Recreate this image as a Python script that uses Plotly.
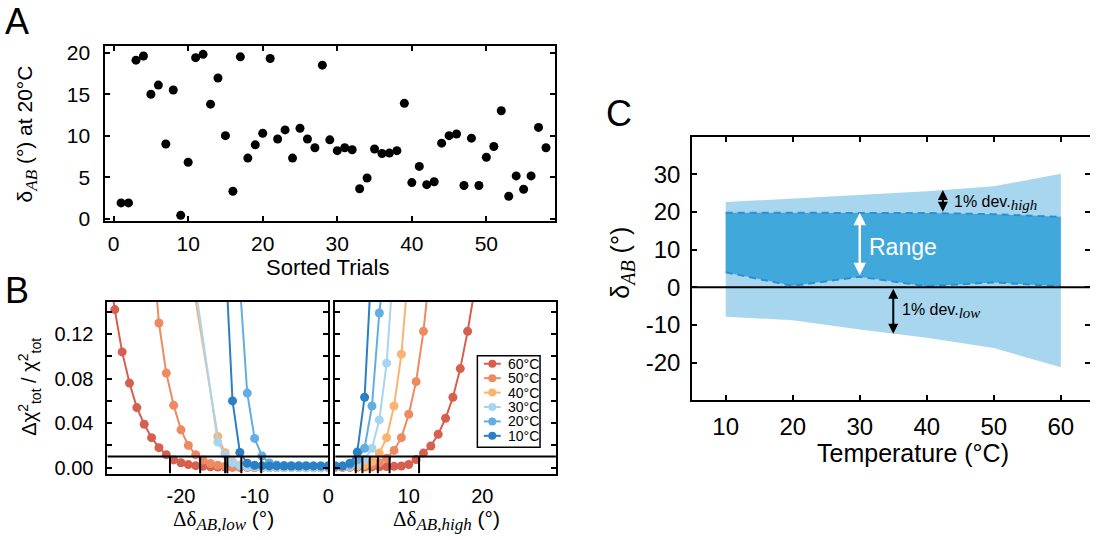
import numpy as np
import plotly.graph_objects as go

W, H = 1096, 540
SANS = "Liberation Sans, Arial, sans-serif"
SERIF = "Liberation Serif, Times New Roman, serif"

# ---------------- Panel A: δ_AB at 20 °C for every sorted trial ----------------
delta_20C = [1.9, 1.9, 19.1, 19.6, 15.0, 16.1, 9.0, 15.5, 0.4, 6.8,
             19.4, 19.8, 13.8, 16.95, 10.0, 3.3, 19.5, 7.3, 8.9, 10.3,
             19.3, 9.6, 10.7, 7.3, 10.9, 9.6, 8.55, 18.5, 9.5, 8.2,
             8.55, 8.3, 3.6, 4.9, 8.4, 7.85, 7.9, 8.2, 13.9, 4.35,
             6.3, 4.1, 4.45, 9.1, 10.0, 10.2, 4.0, 9.7, 4.0, 7.4,
             8.7, 13.0, 2.7, 5.15, 3.55, 5.15, 11.0, 8.55]
trial = list(range(1, len(delta_20C) + 1))

# ---------------- Panel B: Δχ²/χ² scans on both sides of the optimum ----------------
scan_temps = [60, 50, 40, 30, 20, 10]
scan_colors = ["#d6604d", "#ee8a62", "#fbb46f", "#a7d5f1", "#62aee2", "#2b7fc4"]
threshold = 0.01

low60_x = [-30, -29, -28, -27, -26, -25, -24, -23, -22, -21, -20, -19, -18, -17, -16,
           -15, -14, -13, -12, -11, -10, -9, -8, -7, -6, -5, -4, -3, -2, -1, 0]
low60_y = [0.190, 0.142, 0.104, 0.076, 0.054, 0.039, 0.027, 0.018, 0.0117, 0.0070,
           0.0044, 0.0028, 0.0018, 0.0012, 0.0008, 0.0006, 0.0005, 0.0004, 0.0003, 0.0003,
           0.0002, 0.0002, 0.0002, 0.0001, 0.0001, 0.0001, 0.0001, 0.0, 0.0, 0.0, 0.0]
low50_x = [-24, -23, -22, -21, -20, -19, -18, -17, -16, -15, -14, -13, -12,
           -11, -10, -9, -8, -7, -6, -5, -4, -3, -2, -1, 0]
low50_y = [0.210, 0.130, 0.085, 0.056, 0.034, 0.020, 0.0116, 0.0068, 0.0038, 0.0022,
           0.0014, 0.0009, 0.0006, 0.0004, 0.0003, 0.0002, 0.0002, 0.0001, 0.0001, 0.0001,
           0.0, 0.0, 0.0, 0.0, 0.0]
low40_x = [-18.5, -15, -14, -13, -12, -11, -10, -9, -8, -7, -6, -5, -4, -3, -2, -1, 0]
low40_y = [0.170, 0.028, 0.0135, 0.0055, 0.0025, 0.0012, 0.0008, 0.0005, 0.0003,
           0.0002, 0.0002, 0.0001, 0.0001, 0.0001, 0.0, 0.0, 0.0]
low30_x = [-18.2, -15, -14, -13, -12, -11, -10, -9, -8, -7, -6, -5, -4, -3, -2, -1, 0]
low30_y = [0.170, 0.023, 0.0115, 0.0045, 0.0020, 0.0010, 0.0007, 0.0005, 0.0004,
           0.0003, 0.0002, 0.0002, 0.0001, 0.0001, 0.0, 0.0, 0.0]
low20_x = [-12.2, -11, -10, -9, -8, -7, -6, -5, -4, -3, -2, -1, 0]
low20_y = [0.184, 0.067, 0.0263, 0.0105, 0.0042, 0.0025, 0.0020, 0.0018, 0.0017,
           0.0017, 0.0016, 0.0016, 0.0016]
low10_x = [-14, -13, -12, -11, -10, -9, -8, -7, -6, -5, -4, -3, -2, -1, 0]
low10_y = [0.195, 0.060, 0.0137, 0.0040, 0.0022, 0.0018, 0.0016, 0.0016, 0.0015,
           0.0015, 0.0015, 0.0016, 0.0016, 0.0015, 0.0015]

high60_x = [0, 1, 2, 3, 4, 5, 6, 7, 8, 9, 10, 11, 12, 13, 14, 15, 16, 17, 18, 19]
high60_y = [0.0003, 0.0003, 0.0004, 0.0005, 0.0006, 0.0007, 0.0008, 0.0010, 0.0012, 0.0015,
            0.0029, 0.0073, 0.0131, 0.0195, 0.0300, 0.0444, 0.0633, 0.0890, 0.1225, 0.162]
high50_x = [0, 1, 2, 3, 4, 5, 6, 7, 8, 9, 10, 11, 12, 13]
high50_y = [0.0006, 0.0006, 0.0008, 0.0010, 0.0015, 0.0025, 0.0045, 0.0085, 0.0155,
            0.0270, 0.0480, 0.0773, 0.1225, 0.186]
high40_x = [0, 1, 2, 3, 4, 5, 6, 7, 8, 9, 10]
high40_y = [0.0008, 0.0008, 0.0010, 0.0015, 0.0025, 0.0055, 0.0131, 0.0270, 0.0554, 0.102, 0.180]
high30_x = [0, 1, 2, 3, 4, 5, 6, 7, 8]
high30_y = [0.0010, 0.0010, 0.0015, 0.0030, 0.0075, 0.0175, 0.0429, 0.0939, 0.190]
high20_x = [0, 1, 2, 3, 4, 5, 6, 7]
high20_y = [0.0015, 0.0015, 0.0025, 0.0070, 0.0175, 0.0554, 0.139, 0.200]
high10_x = [0, 1, 2, 3, 4, 5]
high10_y = [0.0015, 0.0015, 0.0040, 0.0140, 0.0633, 0.190]

scans_low = [(low60_x, low60_y), (low50_x, low50_y), (low40_x, low40_y),
             (low30_x, low30_y), (low20_x, low20_y), (low10_x, low10_y)]
scans_high = [(high60_x, high60_y), (high50_x, high50_y), (high40_x, high40_y),
              (high30_x, high30_y), (high20_x, high20_y), (high10_x, high10_y)]

# ---------------- Panel C: accepted range and 1 % deviation bounds ----------------
temps = [10, 20, 30, 40, 50, 60]
range_low = [4.0, 0.4, 2.8, 0.3, 1.3, 0.3]
range_high = [19.8, 19.8, 19.8, 19.7, 19.4, 18.7]
dev_low = [11.8, 9.1, 14.0, 13.7, 17.4, 21.5]
dev_high = [2.8, 3.7, 4.7, 5.8, 7.4, 11.4]

bound_low = [r - d for r, d in zip(range_low, dev_low)]
bound_high = [r + d for r, d in zip(range_high, dev_high)]

LIGHT = "#a8d6ef"
DARK = "#41a8dc"
DASH = "#2a90d3"

yB_range = [-0.00525, 0.1492]


def px(x):
    return x / W


def py(y):
    return 1 - y / H


fig = go.Figure()

# Panel A scatter
fig.add_trace(go.Scatter(x=trial, y=delta_20C, mode="markers",
                         marker=dict(color="black", size=9),
                         xaxis="x", yaxis="y", showlegend=False))

# Panel B scans
for (xs, ys), col in zip(scans_low, scan_colors):
    fig.add_trace(go.Scatter(x=xs, y=ys, mode="lines+markers",
                             line=dict(color=col, width=2),
                             marker=dict(color=col, size=9),
                             xaxis="x2", yaxis="y2", showlegend=False))
for (xs, ys), col in zip(scans_high, scan_colors):
    fig.add_trace(go.Scatter(x=xs, y=ys, mode="lines+markers",
                             line=dict(color=col, width=2),
                             marker=dict(color=col, size=9),
                             xaxis="x3", yaxis="y3", showlegend=False))

# threshold line and crossing markers
vlx, vly, vhx, vhy = [], [], [], []
for d in dev_low:
    vlx += [-d, -d, None]
    vly += [yB_range[0], threshold, None]
for d in dev_high:
    vhx += [d, d, None]
    vhy += [yB_range[0], threshold, None]
fig.add_trace(go.Scatter(x=[-30, 0] + [None] + vlx, y=[threshold, threshold] + [None] + vly,
                         mode="lines", line=dict(color="black", width=2),
                         xaxis="x2", yaxis="y2", showlegend=False))
fig.add_trace(go.Scatter(x=[0, 30] + [None] + vhx, y=[threshold, threshold] + [None] + vhy,
                         mode="lines", line=dict(color="black", width=2),
                         xaxis="x3", yaxis="y3", showlegend=False))

# Panel C bands
fig.add_trace(go.Scatter(x=temps, y=bound_low, mode="lines", line=dict(width=0, color=LIGHT),
                         xaxis="x4", yaxis="y4", showlegend=False, hoverinfo="skip"))
fig.add_trace(go.Scatter(x=temps, y=bound_high, mode="lines", line=dict(width=0, color=LIGHT),
                         fill="tonexty", fillcolor=LIGHT,
                         xaxis="x4", yaxis="y4", showlegend=False))
fig.add_trace(go.Scatter(x=temps, y=range_low, mode="lines",
                         line=dict(color=DASH, width=2, dash="7px,5px"),
                         xaxis="x4", yaxis="y4", showlegend=False))
fig.add_trace(go.Scatter(x=temps, y=range_high, mode="lines",
                         line=dict(color=DASH, width=2, dash="7px,5px"),
                         fill="tonexty", fillcolor=DARK,
                         xaxis="x4", yaxis="y4", showlegend=False))
# keeps the right-hand tick axis of panel C alive
fig.add_trace(go.Scatter(x=[None], y=[None], xaxis="x4", yaxis="y5", showlegend=False))

tickfont_A = dict(family=SANS, size=21, color="black")
tickfont_B = dict(family=SANS, size=20, color="black")
tickfont_C = dict(family=SANS, size=24, color="black")

box = dict(showline=True, linecolor="black", linewidth=2, showgrid=False, zeroline=False,
           tickcolor="black", tickwidth=1.5)
minorB = dict(ticks="inside", dtick=0.02, ticklen=5, tickwidth=1.5, tickcolor="black",
              showgrid=False)

fig.update_layout(
    width=W, height=H,
    margin=dict(l=0, r=0, t=0, b=0),
    paper_bgcolor="white", plot_bgcolor="white",
    font=dict(family=SANS, color="black"),
    showlegend=False,
    xaxis=dict(**box, domain=[px(106), px(558)], anchor="y", range=[-1.1, 59.2],
               tickvals=[0, 10, 20, 30, 40, 50], ticks="inside", ticklen=5, mirror="ticks",
               tickfont=tickfont_A, ticklabelstandoff=3),
    yaxis=dict(**box, domain=[py(222), py(42)], anchor="x", range=[-0.31, 20.82],
               tickvals=[0, 5, 10, 15, 20], ticks="inside", ticklen=5, mirror="ticks",
               tickfont=tickfont_A, ticklabelstandoff=9),
    xaxis2=dict(**box, domain=[px(108), px(330)], anchor="y2", range=[-30, 0],
                tickvals=[-20, -10, 0], ticktext=["-20", "-10", "0"], ticks="", mirror=True,
                tickfont=tickfont_B, ticklabelstandoff=3),
    yaxis2=dict(**box, domain=[py(481), py(304.5)], anchor="x2", range=yB_range,
                tickvals=[0, 0.04, 0.08, 0.12], ticktext=["0.00", "0.04", "0.08", "0.12"],
                minor=minorB, ticks="inside", ticklen=5, mirror="ticks",
                tickfont=tickfont_B, ticklabelstandoff=8),
    xaxis3=dict(**box, domain=[px(337), px(559)], anchor="y3", range=[0, 30],
                tickvals=[10, 20], ticks="", mirror=True, tickfont=tickfont_B,
                ticklabelstandoff=3),
    yaxis3=dict(**box, domain=[py(481), py(304.5)], anchor="x3", range=yB_range,
                tickvals=[0, 0.04, 0.08, 0.12], minor=minorB,
                showticklabels=False, ticks="inside", ticklen=5, mirror="ticks"),
    xaxis4=dict(**box, domain=[px(696), 1.0], anchor="y4", range=[5, 64.35],
                tickvals=temps, ticks="inside", ticklen=5, mirror="ticks",
                tickfont=tickfont_C, ticklabelstandoff=4),
    yaxis4=dict(**box, domain=[py(406), py(135)], anchor="x4", range=[-30, 40],
                tickvals=[-20, -10, 0, 10, 20, 30],
                ticktext=["-20", "-10", "0", "10", "20", "30"],
                ticks="inside", ticklen=5, mirror=False, tickfont=tickfont_C,
                ticklabelstandoff=5),
    yaxis5=dict(overlaying="y4", side="right", anchor="x4", range=[-30, 40],
                tickvals=[-20, -10, 0, 10, 20, 30], showticklabels=False,
                ticks="inside", ticklen=5, tickcolor="black", tickwidth=1.5,
                showline=False, showgrid=False, zeroline=False),
)

shapes = []
# zero line across panel C
shapes.append(dict(type="line", xref="x4 domain", yref="y4", x0=0, x1=1, y0=0, y1=0,
                   line=dict(color="black", width=2), layer="above"))

# legend for the scans (panel B, right plot)
leg_x0, leg_x1, leg_y0, leg_y1 = 480, 543, 360, 454
shapes.append(dict(type="rect", xref="paper", yref="paper",
                   x0=px(leg_x0), x1=px(leg_x1), y0=py(leg_y1), y1=py(leg_y0),
                   line=dict(color="black", width=1.5), fillcolor="white", layer="above"))
annotations = []
for i, (t, col) in enumerate(zip(scan_temps, scan_colors)):
    yy = 368.3 + i * 14.8
    shapes.append(dict(type="line", xref="paper", yref="paper",
                       x0=px(486.5), x1=px(503.5), y0=py(yy), y1=py(yy),
                       line=dict(color=col, width=2), layer="above"))
    shapes.append(dict(type="circle", xref="paper", yref="paper",
                       xsizemode="pixel", ysizemode="pixel",
                       xanchor=px(495), yanchor=py(yy), x0=-4, x1=4, y0=-4, y1=4,
                       line=dict(color=col, width=0), fillcolor=col, layer="above"))
    annotations.append(dict(text=f"{t}°C", x=px(509), y=py(yy), xref="paper", yref="paper",
                            xanchor="left", yanchor="middle", showarrow=False,
                            font=dict(family=SANS, size=14, color="black")))


def label(text, x, y, size, angle=0, **kw):
    return dict(text=text, x=px(x), y=py(y), xref="paper", yref="paper", showarrow=False,
                textangle=angle, xanchor="center", yanchor="middle",
                font=dict(family=SANS, size=size, color="black"), **kw)


def it(s, size):
    return f'<span style="font-family:{SERIF};font-size:{size}px"><i>{s}</i></span>'


serif_dd = f'<span style="font-family:{SERIF}">Δδ</span>'

annotations += [
    label("A", 17, 17, 36),
    label("B", 17, 293, 36),
    label("C", 622, 111, 36),
    label(f"δ<sub>{it('AB', 17)}</sub> (°) at 20°C", 27, 132, 21, angle=-90),
    label("Sorted Trials", 330, 269, 22),
    label("Δχ<sup>2</sup><sub>tot</sub> / χ<sup>2</sup><sub>tot</sub>", 30, 392, 20, angle=-90),
    label(f'{serif_dd}<sub>{it("AB,low", 17)}</sub> (°)', 225, 529, 21),
    label(f'{serif_dd}<sub>{it("AB,high", 17)}</sub> (°)', 449, 529, 21),
    label("Temperature (°C)", 918, 460, 25),
    label(f"δ<sub>{it('AB', 20)}</sub> (°)", 626, 265, 25, angle=-90),
]


def double_arrow(x, y0, y1, color, width, size):
    return dict(x=x, y=y1, ax=x, ay=y0, xref="x4", yref="y4", axref="x4", ayref="y4",
                text="", showarrow=True, arrowhead=2, startarrowhead=2,
                arrowside="end+start", arrowsize=size, startarrowsize=size,
                arrowwidth=width, arrowcolor=color)


x_hi, x_rng, x_lo = 42.4, 30, 35
annotations += [
    double_arrow(x_hi, float(np.interp(x_hi, temps, range_high)),
                 float(np.interp(x_hi, temps, bound_high)), "black", 2, 1),
    double_arrow(x_rng, float(np.interp(x_rng, temps, range_low)),
                 float(np.interp(x_rng, temps, range_high)), "white", 2.5, 1),
    double_arrow(x_lo, 0, float(np.interp(x_lo, temps, bound_low)), "black", 2, 1),
    dict(text="Range", x=31.1, y=10.8, xref="x4", yref="y4", xanchor="left",
         yanchor="middle", showarrow=False, font=dict(family=SANS, size=23, color="white")),
    dict(text=f"1% dev.<sub>{it('high', 15)}</sub>", x=43.8, y=22.4, xref="x4", yref="y4",
         xanchor="left", yanchor="middle", showarrow=False,
         font=dict(family=SANS, size=16, color="black")),
    dict(text=f"1% dev.<sub>{it('low', 15)}</sub>", x=36.0, y=-6.2, xref="x4", yref="y4",
         xanchor="left", yanchor="middle", showarrow=False,
         font=dict(family=SANS, size=16, color="black")),
]

fig.update_layout(shapes=shapes, annotations=annotations)
fig.write_html("out.html")
